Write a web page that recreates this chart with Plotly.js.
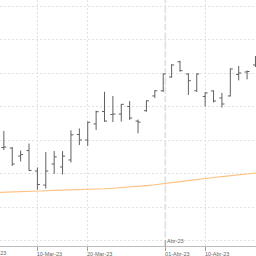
<!DOCTYPE html>
<html>
<head>
<meta charset="utf-8">
<script src="https://cdn.plot.ly/plotly-3.0.1.min.js"></script>
<style>html,body{margin:0;padding:0;background:#fff;}#chart{width:256px;height:256px;}</style>
</head>
<body>
<div id="chart"></div>
<script>
// Trading days (weekends and Good Friday skipped)
const dates = ['2023-03-06','2023-03-07','2023-03-08','2023-03-09','2023-03-10',
  '2023-03-13','2023-03-14','2023-03-15','2023-03-16','2023-03-17',
  '2023-03-20','2023-03-21','2023-03-22','2023-03-23','2023-03-24',
  '2023-03-27','2023-03-28','2023-03-29','2023-03-30','2023-03-31',
  '2023-04-03','2023-04-04','2023-04-05','2023-04-06',
  '2023-04-10','2023-04-11','2023-04-12','2023-04-13','2023-04-14',
  '2023-04-17','2023-04-18'];
const openVals  = [103.55,103.52,103.04,103.37,102.15,101.31,102.57,102.39,102.81,104.33,
  104.00,104.96,105.70,105.52,105.55,106.00,105.13,105.75,106.63,106.94,
  107.76,108.67,107.94,106.94,106.60,106.93,106.51,106.63,107.91,108.06,108.48];
const highVals  = [104.54,103.58,103.37,103.79,102.36,103.28,103.34,103.34,104.58,104.69,
  105.10,105.75,106.88,106.63,106.15,106.33,105.22,106.37,106.97,107.98,
  108.52,108.73,107.98,107.98,106.85,106.96,106.81,108.28,108.42,108.15,109.01];
const lowVals   = [103.40,102.45,102.72,102.15,101.04,101.10,101.97,101.94,102.66,103.70,
  103.64,104.60,105.09,105.07,105.10,105.19,104.40,105.69,106.51,106.87,
  107.72,108.08,106.69,106.87,106.00,106.24,105.94,106.60,107.56,107.62,108.36];
const closeVals = [103.58,102.57,103.13,102.18,101.34,102.15,102.99,103.04,104.31,104.00,
  105.06,105.69,105.13,105.55,106.13,105.31,105.07,106.34,106.94,107.94,
  108.48,108.14,107.54,107.94,106.81,106.33,106.15,108.24,108.00,108.09,108.90];

// Moving average line
const maDates = ['2023-03-03'].concat(dates).concat(['2023-04-19']);
const maVals = [100.87,100.88,100.90,100.91,100.93,100.96,100.97,100.99,101.00,101.01,101.03,
  101.04,101.06,101.09,101.12,101.15,101.19,101.24,101.28,101.33,101.38,
  101.44,101.52,101.58,101.65,101.71,101.76,101.81,101.87,101.92,101.98,102.02,102.08];

// Axis ticks
const tickVals = ['2023-03-10','2023-03-20','2023-03-31 06:00','2023-04-10'];
const tickText = ['10-Mar-23','20-Mar-23','01-Abr-23','10-Abr-23'];
const monthVal = '2023-03-31 06:00';
const monthText = 'Abr-23';

const barColor = '#606060';
const traces = [
  {type:'scatter', mode:'lines', x:maDates, y:maVals, line:{color:'#fdc283', width:1.2}, hoverinfo:'skip'},
  {type:'ohlc', x:dates, open:openVals, high:highVals, low:lowVals, close:closeVals,
   increasing:{line:{color:barColor, width:1}}, decreasing:{line:{color:barColor, width:1}},
   tickwidth:0.3, hoverinfo:'skip'}
];

const layout = {
  width:256, height:256,
  margin:{l:0, r:0, t:0, b:10, pad:0},
  paper_bgcolor:'#ffffff', plot_bgcolor:'#ffffff',
  showlegend:false,
  font:{family:'Liberation Sans, Arial, sans-serif', size:6, color:'#666'},
  xaxis:{type:'date', range:['2023-03-03 13:00','2023-04-18 01:30'],
    rangebreaks:[{bounds:['sat','mon']},{values:['2023-04-07']}],
    rangeslider:{visible:false},
    tickmode:'array', tickvals:tickVals, ticktext:tickText,
    showgrid:true, gridcolor:'#e2e2e2', griddash:'2px,2px', gridwidth:1,
    showline:true, linecolor:'#bdbdbd', linewidth:1,
    ticks:'outside', ticklen:4, tickcolor:'#a0a0a0', tickwidth:1,
    ticklabelshift:12, ticklabelstandoff:-2,
    tickfont:{size:5.5, color:'#666'}, zeroline:false, fixedrange:true},
  yaxis:{range:[97.672,112.358], dtick:2, tick0:100, showgrid:true, gridcolor:'#e2e2e2', griddash:'2px,2px', gridwidth:1,
    showticklabels:false, zeroline:false, showline:false, fixedrange:true},
  shapes:[
    {type:'line', xref:'x', yref:'paper', x0:monthVal, x1:monthVal, y0:0, y1:1,
     line:{color:'#e6e6e6', width:2, dash:'6px,3px'}, layer:'below'},
    {type:'line', xref:'x', yref:'paper', x0:monthVal, x1:monthVal, y0:0, y1:0.025,
     line:{color:'#a0a0a0', width:1}}
  ],
  annotations:[
    {xref:'x', yref:'paper', x:monthVal, y:0, xanchor:'left', yanchor:'bottom', xshift:0,
     text:monthText, showarrow:false, font:{size:5.5, color:'#666'}},
    {xref:'paper', yref:'paper', x:-0.083, y:0, yshift:-2, xanchor:'left', yanchor:'top',
     text:'01-Mar-23', showarrow:false, font:{size:5.5, color:'#666'}}
  ]
};

Plotly.newPlot('chart', traces, layout, {displayModeBar:false, staticPlot:true});
</script>
</body>
</html>
